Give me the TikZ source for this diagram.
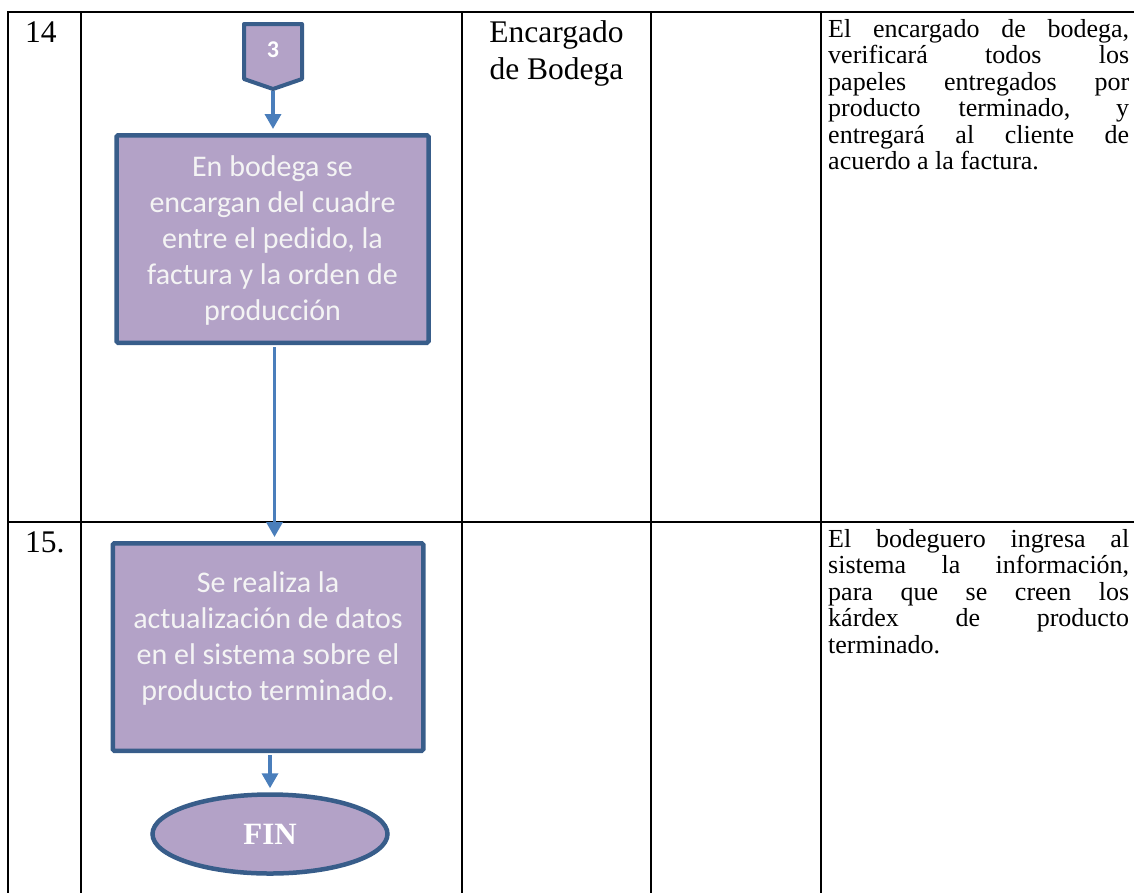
\documentclass[tikz,border=0pt]{standalone}
\usepackage{fontspec}
\setmainfont{Liberation Serif}
\newfontfamily\carlito{Carlito}
\usetikzlibrary{arrows.meta,shapes.geometric}
\definecolor{boxfill}{HTML}{B3A2C7}
\definecolor{boxline}{HTML}{385D8A}
\definecolor{arrowc}{HTML}{4A7EBB}
\definecolor{boxtext}{HTML}{F4F4F4}
\newcommand{\jl}[1]{\makebox[301pt][s]{#1}}
\begin{document}
\begin{tikzpicture}[x=1pt,y=-1pt,
  gridline/.style={line width=2.5pt, black, line cap=rect},
  procbox/.style={draw=boxline, fill=boxfill, line width=4.5pt, rounded corners=1.5pt, inner sep=0pt},
  boxlabel/.style={font=\carlito\fontsize{30}{36}\selectfont, text=boxtext, align=center, inner sep=0pt},
  flowarrow/.style={draw=arrowc, line width=3.5pt, -{Triangle[width=16pt,length=15pt]}, shorten >=4pt, shorten <=2pt},
  bigtext/.style={font=\fontsize{31.5}{37}\selectfont, inner sep=0pt},
  desc/.style={font=\fontsize{26}{26.5}\selectfont, inner sep=0pt, align=left, anchor=north west}]
\useasboundingbox (0,0) rectangle (1134,892);
% table
\draw[gridline] (8,12) -- (1134,12);
\draw[gridline] (8,522) -- (1134,522);
\foreach \x in {8,81,462,651,821} \draw[gridline] (\x,12) -- (\x,892);
% row numbers and role
\node[bigtext, anchor=base west] (n14) at (25,42) {14};
\node[bigtext, anchor=base west] (n15) at (25,552) {15.};
\node[bigtext, align=center, anchor=north] (role) at (556.5,20.5) {Encargado\\de Bodega};
% descriptions
\node[desc] (d14) at (828,19.2) {\jl{El encargado de bodega,}\\\jl{verificará todos los}\\\jl{papeles entregados por}\\\jl{producto terminado, y}\\\jl{entregará al cliente de}\\acuerdo a la factura.};
\node[desc] (d15) at (828,529.2) {\jl{El bodeguero ingresa al}\\\jl{sistema la información,}\\\jl{para que se creen los}\\\jl{kárdex de producto}\\terminado.};
% off-page connector
\draw[boxline, fill=boxfill, line width=4pt, line join=round] (244,24) -- (302,24) -- (302,79) -- (273,89) -- (244,79) -- cycle;
\node[font=\carlito\bfseries\fontsize{24}{24}\selectfont, text=white, inner sep=0pt] (c3) at (273,50) {3};
\coordinate (c3tip) at (273,89);
% process boxes
\node[procbox, minimum width=312pt, minimum height=207.5pt] (b1) at (272.5,239) {};
\node[boxlabel] (b1t) at (272.5,240) {En bodega se\\encargan del cuadre\\entre el pedido, la\\factura y la orden de\\producción};
\node[procbox, minimum width=310.5pt, minimum height=207.5pt] (b2) at (268,647) {};
\node[boxlabel] (b2t) at (268,638) {Se realiza la\\actualización de datos\\en el sistema sobre el\\producto terminado.};
% end
\node[ellipse, draw=boxline, fill=boxfill, line width=4.5pt, minimum width=235pt, minimum height=79pt, inner sep=0pt, font=\bfseries\fontsize{31}{31}\selectfont, text=white] (fin) at (270,834) {FIN};
% arrows
\draw[flowarrow] (c3tip) -- (c3tip |- b1.north);
\draw[flowarrow] ([xshift=2pt]b1.south) -- ([xshift=2pt]b1.south |- b2.north);
\draw[flowarrow] (fin.north |- b2.south) -- (fin.north);
\end{tikzpicture}
\end{document}
